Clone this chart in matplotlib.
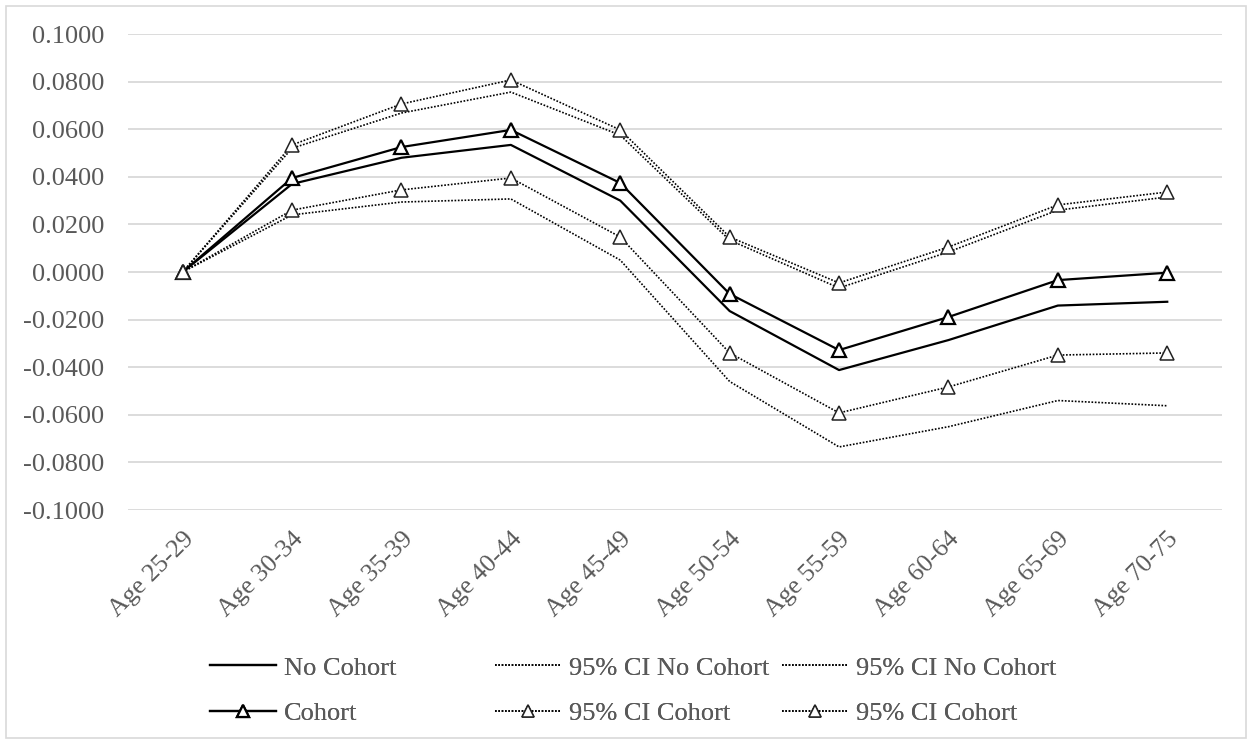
# libraries
import numpy as np
import matplotlib.pyplot as plt
from matplotlib.ticker import FormatStrFormatter
from matplotlib.patches import Rectangle

plt.rcParams['font.family'] = ['Liberation Serif', 'DejaVu Serif']
plt.rcParams['axes.unicode_minus'] = False

# data
ages = ["Age 25-29", "Age 30-34", "Age 35-39", "Age 40-44", "Age 45-49",
        "Age 50-54", "Age 55-59", "Age 60-64", "Age 65-69", "Age 70-75"]
no_cohort = [0.0, 0.0370, 0.0480, 0.0534, 0.0300, -0.0164, -0.0412, -0.0286, -0.0141, -0.0125]
no_cohort_hi = [0.0, 0.0520, 0.0668, 0.0756, 0.0575, 0.0134, -0.0067, 0.0084, 0.0260, 0.0315]
no_cohort_lo = [0.0, 0.0240, 0.0294, 0.0307, 0.0050, -0.0460, -0.0735, -0.0650, -0.0540, -0.0562]
cohort = [0.0, 0.0395, 0.0525, 0.0597, 0.0374, -0.0092, -0.0328, -0.0189, -0.0034, -0.0003]
cohort_hi = [0.0, 0.0534, 0.0706, 0.0807, 0.0597, 0.0147, -0.0046, 0.0105, 0.0282, 0.0336]
cohort_lo = [0.0, 0.0260, 0.0345, 0.0395, 0.0147, -0.0340, -0.0592, -0.0483, -0.0349, -0.0340]
y_ticks = [-0.1, -0.08, -0.06, -0.04, -0.02, 0.0, 0.02, 0.04, 0.06, 0.08, 0.1]

x = np.arange(len(ages))
txt = '#595959'
dot = (0, (1, 1))
fs = 19

fig = plt.figure(figsize=(12.52, 7.44), dpi=100)
ax = fig.add_axes([0.1022, 0.3145, 0.8738, 0.6398])

# outer chart border
fig.patches.append(Rectangle((6 / 1252, 6 / 744), 1240 / 1252, 732 / 744,
                             transform=fig.transFigure, fill=False,
                             edgecolor='#d9d9d9', lw=1.2))

tri = dict(marker='^', markersize=10, markerfacecolor='white')
l1, = ax.plot(x, no_cohort, color='black', lw=1.6, zorder=3)
l2, = ax.plot(x, no_cohort_hi, color='black', lw=1.2, ls=dot, zorder=3)
l3, = ax.plot(x, no_cohort_lo, color='black', lw=1.2, ls=dot, zorder=3)
l4, = ax.plot(x, cohort, color='black', lw=1.6, markeredgewidth=1.6, zorder=4, **tri)
l5, = ax.plot(x, cohort_hi, color='black', lw=1.2, ls=dot, markeredgewidth=1.1,
              markeredgecolor='#222222', zorder=4, **tri)
l6, = ax.plot(x, cohort_lo, color='black', lw=1.2, ls=dot, markeredgewidth=1.1,
              markeredgecolor='#222222', zorder=4, **tri)

ax.set_xlim(-0.5, len(ages) - 0.5)
ax.set_ylim(-0.1, 0.1)
ax.set_yticks(y_ticks)
ax.yaxis.set_major_formatter(FormatStrFormatter('%.4f'))
ax.set_xticks(x)
ax.set_xticklabels(ages, rotation=45, ha='right', rotation_mode='anchor')
ax.tick_params(axis='both', length=0, labelcolor=txt)
ax.tick_params(axis='x', pad=13, labelsize=18.5)
ax.tick_params(axis='y', pad=17, labelsize=fs)
ax.grid(axis='y', color='#d9d9d9', lw=1.3)
ax.set_axisbelow(True)
for s in ax.spines.values():
    s.set_visible(False)

# legend: three fixed-width columns like the original
cols = [([l1, l4], ["No Cohort", "Cohort"], 210),
        ([l2, l5], ["95% CI No Cohort", "95% CI Cohort"], 495),
        ([l3, l6], ["95% CI No Cohort", "95% CI Cohort"], 782)]
for handles, labels, xpx in cols:
    leg = fig.legend(handles, labels, loc='center left',
                     bbox_to_anchor=(xpx / 1252, 1 - 690.5 / 744),
                     frameon=False, fontsize=fs, labelcolor=txt,
                     handlelength=2.5, handletextpad=0.3, labelspacing=0.82,
                     borderpad=0, borderaxespad=0, markerscale=0.8)
    fig.add_artist(leg)

plt.savefig("out.png", dpi=100)
